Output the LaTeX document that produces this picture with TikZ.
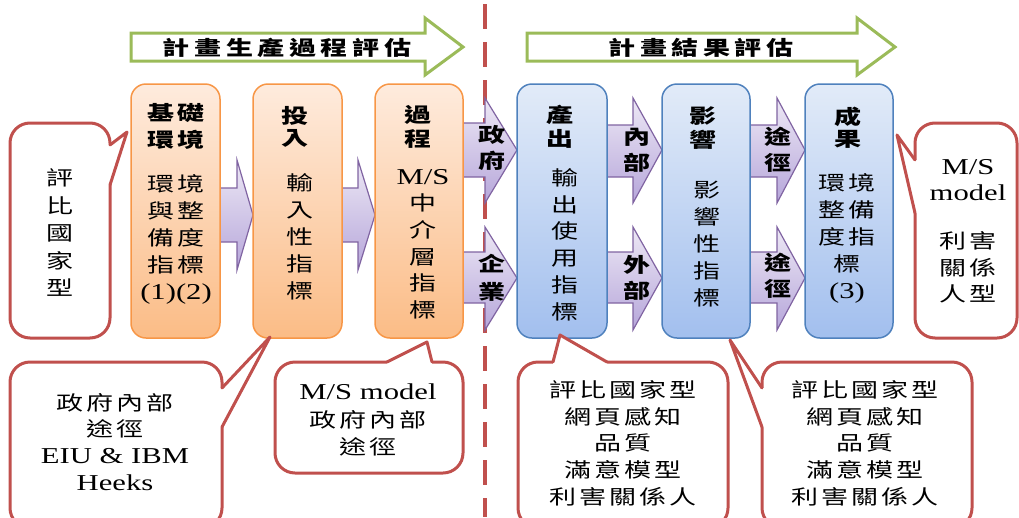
\documentclass[tikz,border=0pt]{standalone}
\usepackage{fontspec}
\usepackage{graphicx}
\setmainfont{Liberation Serif}
\newfontfamily\cjk[LetterSpace=12]{Noto Sans CJK TC}
\newfontfamily\cjkw[LetterSpace=17]{Noto Sans CJK TC}
\usetikzlibrary{shadings,calc}
\definecolor{cred}{HTML}{C0504D}
\definecolor{cgreen}{HTML}{9BBB59}
\definecolor{corange}{HTML}{F79646}
\definecolor{oTop}{HTML}{FEEBDD}
\definecolor{oBot}{HTML}{FBBC86}
\definecolor{cblue}{HTML}{4F81BD}
\definecolor{bTop}{HTML}{E2EBF8}
\definecolor{bBot}{HTML}{A2BFEE}
\definecolor{cpurple}{HTML}{8064A2}
\definecolor{pTop}{HTML}{EDE8F5}
\definecolor{pBot}{HTML}{B6A6DA}
\newcommand\lat{\fontsize{22.7}{27}\selectfont\rmfamily}
\newcommand\blk[2][27]{\scalebox{1.35}[1]{\fontsize{20}{#1}\selectfont\cjk\begin{tabular}{@{}c@{}}#2\end{tabular}}}
\newcommand\bblk[2][27]{\scalebox{1.35}[1]{\fontsize{20}{#1}\selectfont\cjk\bfseries\begin{tabular}{@{}c@{}}#2\end{tabular}}}
\newcommand\wblk[1]{\scalebox{1.35}[1]{\fontsize{20}{27}\selectfont\cjkw\bfseries\begin{tabular}{@{}c@{}}#1\end{tabular}}}
\newcommand\callptr[4]{%
  \fill[white] ($#1+#4$) -- #1 -- #2 -- #3 -- ($#3+#4$) -- cycle;
  \draw[cptr] #1 -- #2 -- #3;}
\tikzset{
  obox/.style={draw=corange, line width=1.5pt, rounded corners=15pt, top color=oTop, bottom color=oBot, minimum height=254pt, inner sep=0pt},
  bbox/.style={draw=cblue, line width=1.5pt, rounded corners=15pt, top color=bTop, bottom color=bBot, minimum height=254pt, inner sep=0pt},
  parrow/.style={draw=cpurple, line width=1.2pt, top color=pTop, bottom color=pBot},
  garrow/.style={draw=cgreen, line width=3pt, fill=white},
  cbox/.style={draw=cred, line width=3pt, fill=white, rounded corners=20pt, inner sep=0pt},
  cptr/.style={draw=cred, line width=3pt, line join=round, line cap=round},
  txt/.style={inner sep=0pt, outer sep=0pt, text=black},
  divider/.style={draw=cred, line width=4pt, dash pattern=on 25pt off 13pt}
}
\begin{document}
\begin{tikzpicture}[x=1pt,y=-1pt]
\useasboundingbox (0,0) rectangle (1019,517);
\clip (0,0) rectangle (1019,517);

% top green arrows
\draw[garrow] (131,33) -- (425,33) -- (425,18) -- (463,47) -- (425,75) -- (425,61) -- (131,61) -- cycle;
\node[txt] (ttl1) at (287,50) {\wblk{計畫生產過程評估}};
\draw[garrow] (527,33) -- (857,33) -- (857,18) -- (895,47) -- (857,75) -- (857,61) -- (527,61) -- cycle;
\node[txt] (ttl2) at (701,50) {\wblk{計畫結果評估}};

% divider
\coordinate (dtop) at (485,4);
\coordinate (dbot) at (485,517);
\draw[divider] (dtop) -- (dbot);

% purple arrows
\draw[parrow] (219,188) -- (237,188) -- (237,160) -- (253,215) -- (237,270) -- (237,242) -- (219,242) -- cycle;
\draw[parrow] (341,188) -- (358,188) -- (358,160) -- (375,215) -- (358,270) -- (358,242) -- (341,242) -- cycle;
\draw[parrow] (462,123) -- (485,123) -- (485,98) -- (517,150) -- (485,203) -- (485,177) -- (462,177) -- cycle;
\draw[parrow] (462,252) -- (485,252) -- (485,227) -- (517,278) -- (485,330) -- (485,303) -- (462,303) -- cycle;
\draw[parrow] (606,125) -- (633,125) -- (633,98) -- (662,150) -- (633,203) -- (633,177) -- (606,177) -- cycle;
\draw[parrow] (606,252) -- (633,252) -- (633,227) -- (662,278) -- (633,330) -- (633,303) -- (606,303) -- cycle;
\draw[parrow] (749,125) -- (777,125) -- (777,98) -- (805,150) -- (777,203) -- (777,177) -- (749,177) -- cycle;
\draw[parrow] (749,252) -- (777,252) -- (777,227) -- (805,278) -- (777,330) -- (777,303) -- (749,303) -- cycle;

\node[txt] (lg) at (492,150) {\bblk[26]{政\\府}};
\node[txt] (le) at (492,280) {\bblk[28]{企\\業}};
\node[txt] (li) at (637,152) {\bblk[26]{內\\部}};
\node[txt] (lo) at (637,280) {\bblk[26]{外\\部}};
\node[txt] (lw1) at (778,152) {\bblk[26]{途\\徑}};
\node[txt] (lw2) at (778,278) {\bblk[26]{途\\徑}};

% boxes
\node[obox, minimum width=89pt] (b1) at (175.5,211) {};
\node[obox, minimum width=89pt] (b2) at (297.5,211) {};
\node[obox, minimum width=88pt] (b3) at (419,211) {};
\node[bbox, minimum width=90pt] (b4) at (562,211) {};
\node[bbox, minimum width=88pt] (b5) at (706,211) {};
\node[bbox, minimum width=88pt] (b6) at (849,211) {};

\node[txt] (t1) at (176,128.5) {\bblk[27]{基礎\\環境}};
\node[txt] (t2) at (295,129) {\bblk[21]{投\\入}};
\node[txt] (t3) at (418,129) {\bblk[21.5]{過\\程}};
\node[txt] (t4) at (560,129) {\bblk[21.5]{產\\出}};
\node[txt] (t5) at (703,130.5) {\bblk[22]{影\\響}};
\node[txt] (t6) at (848,130) {\bblk[20]{成\\果}};

\node[txt] (d1) at (176,240.5) {\blk[27]{環境\\與整\\備度\\指標\\{\lat (1)(2)}}};
\node[txt] (d2) at (300,239.5) {\blk[27]{輸\\入\\性\\指\\標}};
\node[txt] (d3) at (423,245.5) {\blk[26.6]{{\lat M/S}\\中\\介\\層\\指\\標}};
\node[txt] (d4) at (565,247) {\blk[26.8]{輸\\出\\使\\用\\指\\標}};
\node[txt] (d5) at (707,246) {\blk[27]{影\\響\\性\\指\\標}};
\node[txt] (d6) at (847,239.5) {\blk[27]{環境\\整備\\度指\\標\\{\lat (3)}}};

% callouts
\node[cbox, minimum width=100pt, minimum height=215pt] (cL) at (60,230.5) {};
\callptr{(110,145)}{(127,132)}{(110,185)}{(-2.5,0)}
\node[txt] (cLt) at (60,235) {\blk[27.5]{評\\比\\國\\家\\型}};

\node[cbox, minimum width=102pt, minimum height=215pt] (cR) at (966,230.5) {};
\callptr{(915,160)}{(897,135)}{(915,213)}{(2.5,0)}
\node[txt] (cRa) at (968,182) {\blk[26]{{\lat M/S}\\{\lat model}}};
\node[txt] (cRb) at (968,270) {\blk[26.5]{利害\\關係\\人型}};

\node[cbox, minimum width=212pt, minimum height=166pt] (cBL) at (116,445) {};
\callptr{(222,388)}{(270,337)}{(222,427)}{(-2.5,0)}
\node[txt] (cBLt) at (115,445) {\blk[26.7]{政府內部\\途徑\\{\lat EIU \& IBM}\\{\lat Heeks}}};

\node[cbox, minimum width=188pt, minimum height=111pt] (cBM) at (369,417.5) {};
\callptr{(387,362)}{(427,342)}{(432,362)}{(0,2.5)}
\node[txt] (cBMt) at (368,421.5) {\blk[27.5]{{\lat M/S model}\\政府內部\\途徑}};

\node[cbox, minimum width=210pt, minimum height=166pt] (cB4) at (623,445) {};
\callptr{(553,362)}{(560,335)}{(607,362)}{(0,2.5)}
\node[txt] (cB4t) at (623,445.5) {\blk[26.8]{評比國家型\\網頁感知\\品質\\滿意模型\\利害關係人}};

\node[cbox, minimum width=210pt, minimum height=166pt] (cB5) at (867,445) {};
\callptr{(762,388)}{(730,340)}{(762,427)}{(2.5,0)}
\node[txt] (cB5t) at (865,445.5) {\blk[26.8]{評比國家型\\網頁感知\\品質\\滿意模型\\利害關係人}};
\end{tikzpicture}
\end{document}
